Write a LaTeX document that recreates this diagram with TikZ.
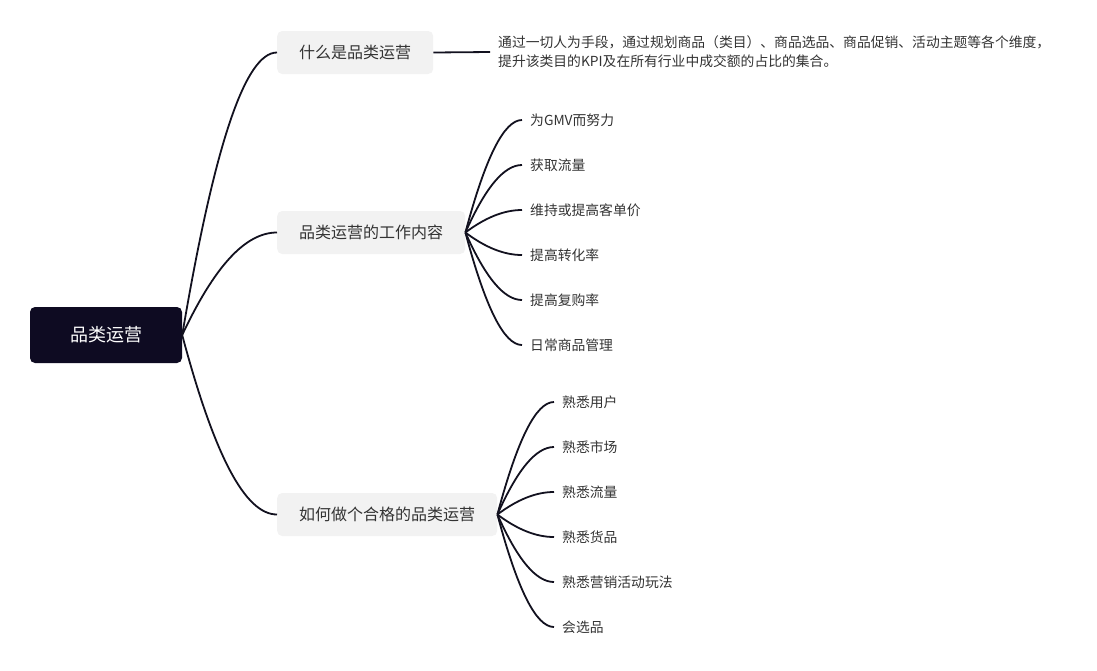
\documentclass[tikz,border=0pt]{standalone}
\usepackage{fontspec}
\setmainfont{Noto Sans CJK SC}
\usepackage{tikz}
\definecolor{rootnavy}{HTML}{0E0B22}
\definecolor{topicgray}{HTML}{F2F2F2}
\definecolor{inkline}{HTML}{12111F}
\definecolor{leafink}{HTML}{333333}
\tikzset{
	root/.style={fill=rootnavy, rounded corners=5pt, minimum width=152pt, minimum height=56pt, text=white, font=\fontsize{18}{22}\selectfont},
	topic/.style={fill=topicgray, rounded corners=5pt, anchor=west, inner xsep=22pt, minimum height=43pt, text=leafink, font=\fontsize{16}{19}\selectfont},
	leaf/.style={anchor=west, inner xsep=8pt, inner ysep=2pt, text=leafink, font=\fontsize{13.8}{16}\selectfont},
	desc/.style={anchor=west, inner xsep=8pt, align=left, text=leafink, font=\fontsize{13.8}{19}\selectfont},
	link/.style={draw=inkline, line width=1.8pt},
}

\begin{document}
\begin{tikzpicture}[x=1pt, y=-1pt]
	\useasboundingbox (0,0) rectangle (1097,670);
	\node [root] (cat) at (106,335) {品类运营};
	\node [topic] (what) at (277,52.5) {什么是品类运营};
	\node [topic] (work) at (277,232.5) {品类运营的工作内容};
	\node [topic] (good) at (277,514.5) {如何做个合格的品类运营};
	\draw [link] (cat.east) .. controls +(32,-189) and +(-32,0) .. (what.west);
	\draw [link] (cat.east) .. controls +(32,-68) and +(-32,0) .. (work.west);
	\draw [link] (cat.east) .. controls +(32,120) and +(-32,0) .. (good.west);
	\node [desc] (def) at (490,52) {通过一切人为手段，通过规划商品（类目）、商品选品、商品促销、活动主题等各个维度，\\提升该类目的KPI及在所有行业中成交额的占比的集合。};
	\draw [link] (what.east) -- (def.west);
	\foreach \i/\txt in {0/为GMV而努力, 1/获取流量, 2/维持或提高客单价, 3/提高转化率, 4/提高复购率, 5/日常商品管理} {
		\node [leaf] (w\i) at (522,120+45*\i) {\txt};
		\draw [link] (work.east) .. controls +(20,{(120+45*\i-232.5)*2/3}) and +(-18,0) .. (w\i.west);
	}
	\foreach \i/\txt in {0/熟悉用户, 1/熟悉市场, 2/熟悉流量, 3/熟悉货品, 4/熟悉营销活动玩法, 5/会选品} {
		\node [leaf] (g\i) at (554,402+45*\i) {\txt};
		\draw [link] (good.east) .. controls +(20,{(402+45*\i-514.5)*2/3}) and +(-18,0) .. (g\i.west);
	}
\end{tikzpicture}
\end{document}
